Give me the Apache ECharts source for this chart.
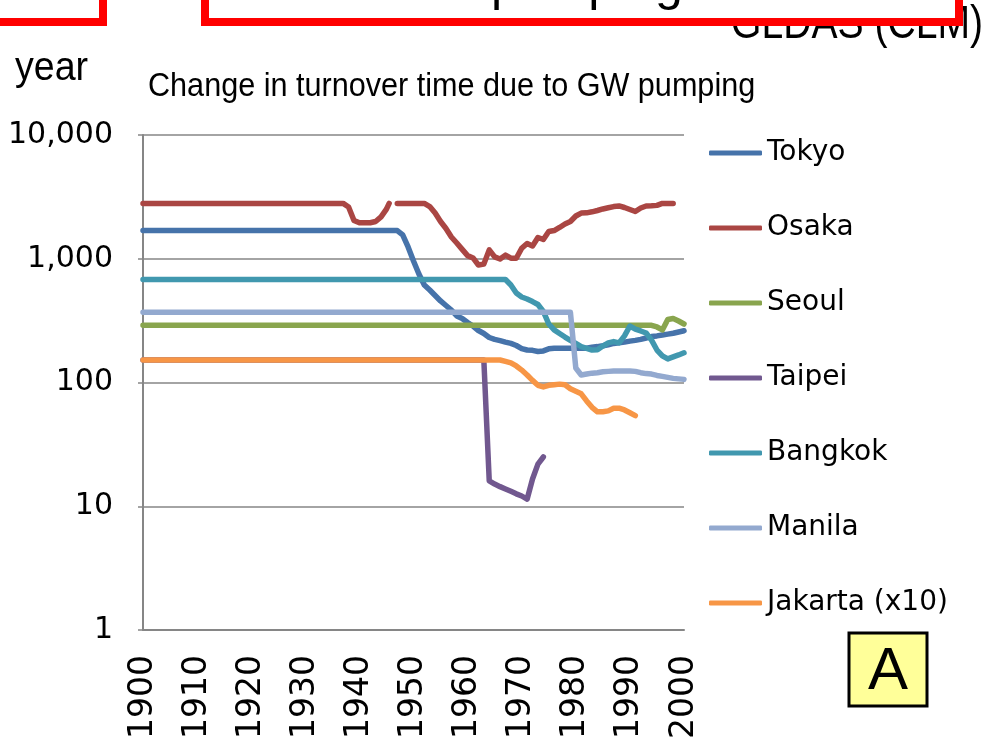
<!DOCTYPE html>
<html>
<head>
<meta charset="utf-8">
<script src="https://cdn.jsdelivr.net/npm/echarts@6/dist/echarts.min.js"></script>
<style>
  html, body { margin: 0; padding: 0; background: #fff; }
  #chart { width: 990px; height: 743px; }
</style>
</head>
<body>
<div id="chart"></div>
<script>
// turnover time (year), [year, value]
const cities = ['Tokyo', 'Osaka', 'Seoul', 'Taipei', 'Bangkok', 'Manila', 'Jakarta (x10)'];
const colors = ['#4673AA', '#AA4643', '#89A54E', '#71588F', '#4198AF', '#93A9CF', '#F79646'];

const tokyo = [[1900,1690],[1947,1690],[1948,1556],[1949,1245],[1950,959],[1951,753],[1952,614],[1953,559],
  [1954,505],[1955,456],[1956,419],[1957,385],[1958,345],[1959,329],[1960,305],[1961,286],[1962,263],[1963,249],
  [1964,231],[1965,223],[1966,218],[1967,212],[1968,207],[1969,199],[1970,188],[1971,183],[1972,182],[1973,178],
  [1974,180],[1975,187],[1976,189],[1982,189],[1983,193],[1984,195],[1985,198],[1986,202],[1987,207],[1988,209],
  [1989,212],[1990,216],[1991,219],[1992,223],[1993,229],[1994,235],[1995,238],[1996,242],[1997,246],[1998,250],
  [1999,256],[2000,262]];

const osaka = [[1900,2800],[1937,2800],[1938,2620],[1939,2040],[1940,1955],[1942,1955],[1943,2000],[1944,2180],
  [1945,2520],[1945.5,2800],[1946,'-'],[1947,2800],[1952,2800],[1953,2640],[1954,2340],[1955,2000],[1956,1755],
  [1957,1500],[1958,1340],[1959,1190],[1960,1060],[1961,1015],[1962,890],[1963,905],[1964,1180],[1965,1035],
  [1966,995],[1967,1070],[1968,1010],[1969,1010],[1970,1215],[1971,1330],[1972,1270],[1973,1485],[1974,1430],
  [1975,1660],[1976,1690],[1977,1790],[1978,1910],[1979,2000],[1980,2215],[1981,2340],[1982,2350],[1983,2395],
  [1984,2455],[1985,2525],[1986,2580],[1987,2640],[1988,2670],[1989,2595],[1990,2500],[1991,2410],[1992,2570],
  [1993,2670],[1994,2680],[1995,2700],[1996,2800],[1998,2800]];

const seoul = [[1900,290],[1994,290],[1995,281],[1996,266],[1997,323],[1998,329],[1999,314],[2000,297]];

const taipei = [[1900,152],[1963,152],[1964,16.0],[1965,15.1],[1966,14.4],[1967,13.8],[1968,13.2],[1969,12.6],
  [1970,12.1],[1971,11.4],[1972,16.6],[1973,21.9],[1974,25.0]];

const bangkok = [[1900,680],[1967,680],[1968,614],[1969,529],[1970,491],[1971,473],[1972,451],[1973,427],
  [1974,375],[1975,297],[1976,266],[1977,249],[1978,233],[1979,219],[1980,207],[1981,195],[1982,189],[1983,183],
  [1984,184],[1985,197],[1986,209],[1987,214],[1988,209],[1989,238],[1990,286],[1991,270],[1992,261],[1993,251],
  [1994,220],[1995,183],[1996,164],[1997,155],[1998,161],[1999,167],[2000,174]];

const manila = [[1900,370],[1979,370],[1980,131],[1981,115],[1982,117],[1983,119],[1984,120],[1985,122],
  [1986,123],[1987,124],[1990,124],[1991,123],[1992,120],[1993,118],[1994,117],[1995,114],[1996,112],[1997,110],
  [1998,108],[1999,107],[2000,106]];

const jakarta = [[1900,152],[1966,152],[1967,148],[1968,144],[1969,136],[1970,126],[1971,115],[1972,104],
  [1973,95],[1974,92],[1975,95],[1976,96],[1977,97],[1978,96],[1979,89],[1980,85],[1981,81],[1982,71],[1983,63],
  [1984,58],[1985,58],[1986,59],[1987,62],[1988,62],[1989,60],[1990,57],[1991,54]];

const yTickLabels = ['1', '10', '100', '1,000', '10,000'];

const seriesData = [tokyo, osaka, seoul, taipei, bangkok, manila, jakarta];

const arial = '"Liberation Sans", Arial, sans-serif';
const gray = '#868686';

const chart = echarts.init(document.getElementById('chart'));

chart.setOption({
  animation: false,
  color: colors,
  grid: { left: 143, right: 306, top: 135, bottom: 113, containLabel: false },
  legend: {
    orient: 'vertical',
    left: 709,
    top: 138,
    padding: 0,
    icon: 'roundRect',
    itemWidth: 53,
    itemHeight: 5,
    itemGap: 45,
    textStyle: { fontFamily: 'DejaVu Sans', fontSize: 28, color: '#000', lineHeight: 30 },
    data: cities
  },
  xAxis: {
    type: 'value',
    min: 1900,
    max: 2000,
    interval: 10,
    splitLine: { show: false },
    axisTick: { show: false },
    axisLine: { lineStyle: { color: gray, width: 2 } },
    axisLabel: {
      rotate: 90,
      margin: 25,
      fontFamily: 'DejaVu Sans',
      fontSize: 33,
      color: '#000',
      formatter: v => String(v)
    }
  },
  yAxis: {
    type: 'log',
    logBase: 10,
    min: 1,
    max: 10000,
    axisLine: { show: true, lineStyle: { color: gray, width: 2 } },
    axisTick: { show: true, length: 5, lineStyle: { color: gray, width: 1.5 } },
    splitLine: { lineStyle: { color: gray, width: 1.5 } },
    axisLabel: {
      margin: 30,
      fontFamily: 'DejaVu Sans',
      fontSize: 30,
      color: '#000',
      formatter: v => yTickLabels[Math.round(Math.log10(v))]
    }
  },
  series: cities.map((name, i) => ({
    name: name,
    type: 'line',
    symbol: 'none',
    data: seriesData[i],
    lineStyle: { width: 5.5, cap: 'round', join: 'round' }
  })),
  graphic: [
    { type: 'text', x: 15, y: 69, scaleX: 0.94, style: { text: 'year', font: '40px ' + arial, fill: '#000', verticalAlign: 'middle' } },
    { type: 'text', x: 148, y: 87, scaleX: 0.9, style: { text: 'Change in turnover time due to GW pumping', font: '34px ' + arial, fill: '#000', verticalAlign: 'middle' } },
    { type: 'text', x: 983, y: 25, z: 1, scaleX: 0.85, style: { text: 'GLDAS (CLM)', font: '46px ' + arial, fill: '#000', align: 'right', verticalAlign: 'middle' } },
    { type: 'rect', z: 5, shape: { x: -10, y: -20, width: 113, height: 42 }, style: { fill: '#fff', stroke: '#FF0000', lineWidth: 8 } },
    { type: 'rect', z: 5, shape: { x: 205, y: -20, width: 754, height: 42 }, style: { fill: '#fff', stroke: '#FF0000', lineWidth: 8 } },
    { type: 'text', x: 587, y: -14, z: 6, style: { text: 'pumping', font: '50px ' + arial, fill: '#000', align: 'center', verticalAlign: 'middle' } },
    { type: 'rect', z: 5, shape: { x: 849, y: 633, width: 78, height: 73 }, style: { fill: '#FFFF99', stroke: '#000', lineWidth: 3 } },
    { type: 'text', x: 888, y: 672, z: 6, style: { text: 'A', font: '60px ' + arial, fill: '#000', align: 'center', verticalAlign: 'middle' } }
  ]
});
</script>
</body>
</html>
